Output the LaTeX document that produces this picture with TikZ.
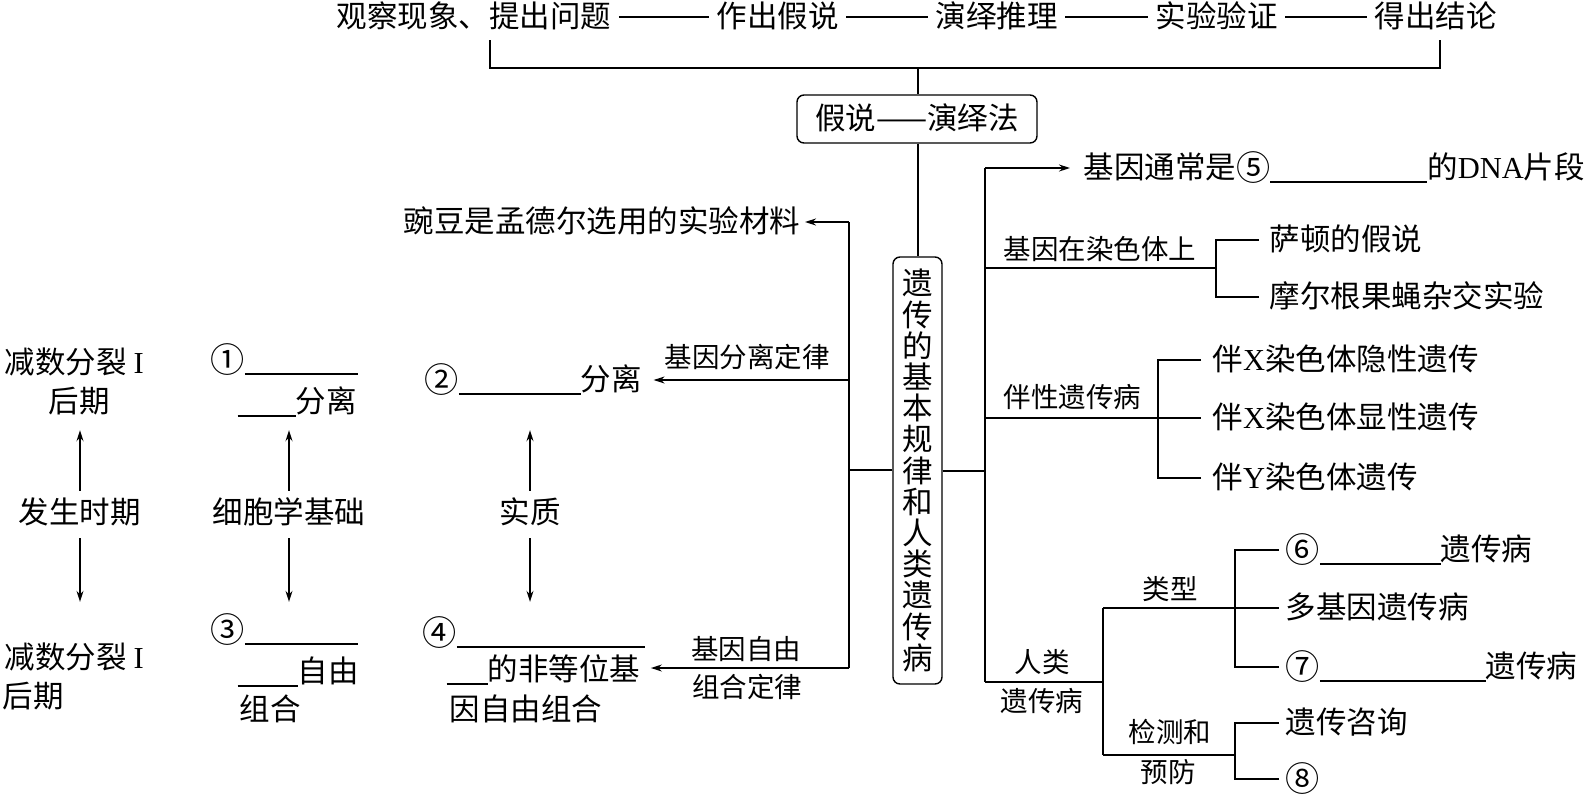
\documentclass[tikz,border=0pt]{standalone}
\usepackage{fontspec}
\setmainfont{Noto Sans CJK SC}
\newfontfamily\lat{Liberation Serif}
\usetikzlibrary{arrows.meta}
\newcommand\myblank[1]{\rule[-4pt]{#1pt}{1.4pt}}
\newcommand\cnum[1]{\raisebox{-1.5pt}{\scalebox{1.12}{#1}}}
\tikzset{
  big/.style={inner sep=0pt, font=\fontsize{30.5}{33}\selectfont, text height=26pt, text depth=5pt},
  small/.style={inner sep=0pt, font=\fontsize{27.5}{30}\selectfont, text height=23.5pt, text depth=4.5pt},
  arr/.style={-{Stealth[length=11pt,width=7pt]}},
  rbox/.style={draw, rounded corners=7pt},
}
\begin{document}
\begin{tikzpicture}[x=1pt,y=-1pt,line width=1.4pt]
\useasboundingbox (0,0) rectangle (1591,796);
% top row
\node[big,anchor=west] (t1) at (336,17) {观察现象、提出问题};
\node[big,anchor=west] (t2) at (716,17) {作出假说};
\node[big,anchor=west] (t3) at (935,17) {演绎推理};
\node[big,anchor=west] (t4) at (1155,17) {实验验证};
\node[big,anchor=west] (t5) at (1374,17) {得出结论};
\draw[shorten <=7pt,shorten >=7pt] (t1) -- (t2);
\draw[shorten <=7pt,shorten >=7pt] (t2) -- (t3);
\draw[shorten <=7pt,shorten >=7pt] (t3) -- (t4);
\draw[shorten <=7pt,shorten >=7pt] (t4) -- (t5);
\coordinate (bl) at (490,40);
\coordinate (br) at (1440,40);
\coordinate (bm) at (918,68);
\draw (bl) |- (bm) -| (br);
\node[rbox,big,inner sep=0pt,minimum width=240pt,minimum height=48pt] (hb) at (917,119) {假说——演绎法};
\draw (bm) -- (bm |- hb.north);
\node[rbox,inner sep=0pt,align=center,minimum width=49pt,minimum height=427pt,
  font={\fontsize{30.5}{31.2}\selectfont\lineskiplimit=-50pt}] (mb) at (917.5,470.5)
  {遗\\传\\的\\基\\本\\规\\律\\和\\人\\类\\遗\\传\\病};
\draw (hb.south -| bm) -- (mb.north -| bm);
% left trunk
\coordinate (lj) at (849,470);
\coordinate (ltop) at (849,222);
\coordinate (lbot) at (849,668);
\coordinate (l2) at (849,380);
\draw (mb.west |- lj) -- (lj);
\draw (ltop) -- (lbot);
\node[big,anchor=east] (pea) at (801,222) {豌豆是孟德尔选用的实验材料};
\draw[arr,shorten >=4pt] (ltop) -- (pea);
\node[big,anchor=west] (n2) at (424,380) {\cnum{②}\myblank{122}分离};
\draw[arr,shorten >=11pt] (l2) -- (n2);
\node[small] (lab2) at (747,358) {基因分离定律};
\node[big,anchor=west] (n4a) at (422,633) {\cnum{④}\myblank{188}};
\node[big,anchor=west] (n4b) at (446,670) {\myblank{41}的非等位基};
\node[big,anchor=west] (n4c) at (449,710) {因自由组合};
\draw[arr,shorten >=10pt] (lbot) -- (lbot -| n4b.east);
\node[small] (lab4a) at (746,650) {基因自由};
\node[small] (lab4b) at (747,688) {组合定律};
% column 1
\node[big,anchor=west] (c1a) at (4,363) {减数分裂 {\lat I}};
\node[big] (c1b) at (79,402) {后期};
\node[big] (c1m) at (80,513) {发生时期};
\node[big,anchor=west] (c1c) at (4,658) {减数分裂 {\lat I}};
\node[big,anchor=west] (c1d) at (2,697) {后期};
\draw[arr,shorten <=6pt,shorten >=12pt] (c1m.north) -- (c1m.north |- c1b.south);
\draw[arr,shorten <=9pt,shorten >=40pt] (c1m.south) -- (c1m.south |- c1c.north);
% column 2
\node[big,anchor=west] (c2a) at (210,360) {\cnum{①}\myblank{113}};
\node[big,anchor=west] (c2b) at (237,402) {\myblank{58}分离};
\node[big] (c2m) at (289,513) {细胞学基础};
\node[big,anchor=west] (c2c) at (210,630) {\cnum{③}\myblank{113}};
\node[big,anchor=west] (c2d) at (237,672) {\myblank{60}自由};
\node[big,anchor=west] (c2e) at (239,710) {组合};
\draw[arr,shorten <=6pt,shorten >=12pt] (c2m.north) -- (c2m.north |- c2b.south);
\draw[arr,shorten <=9pt,shorten >=12pt] (c2m.south) -- (c2m.south |- c2c.north);
% column 3
\node[big] (c3m) at (530,513) {实质};
\draw[arr,shorten <=6pt,shorten >=34pt] (c3m.north) -- (c3m.north |- n2.south);
\draw[arr,shorten <=9pt,shorten >=15pt] (c3m.south) -- (c3m.south |- n4a.north);
% right trunk
\coordinate (rj) at (985,471);
\coordinate (rtop) at (985,168);
\coordinate (rbot) at (985,682);
\draw (mb.east |- rj) -- (rj);
\draw (rtop) -- (rbot);
\node[big,anchor=west] (n5) at (1083,168) {基因通常是\cnum{⑤}\myblank{157}的{\lat DNA}片段};
\draw[arr,shorten >=13pt] (rtop) -- (n5);
% gene on chromosome
\coordinate (r1) at (985,268);
\coordinate (b1) at (1216,268);
\draw (r1) -- (b1);
\node[small,anchor=west] (lab5) at (1003,250) {基因在染色体上};
\node[big,anchor=west] (s1) at (1269,240) {萨顿的假说};
\node[big,anchor=west] (s2) at (1269,297) {摩尔根果蝇杂交实验};
\draw[shorten <=10pt] (s1) -| (b1);
\draw[shorten <=10pt] (s2) -| (b1);
% sex-linked
\coordinate (r2) at (985,418);
\coordinate (b2) at (1158,418);
\node[small,anchor=west] (lab6) at (1003,398) {伴性遗传病};
\node[big,anchor=west] (x1) at (1212,360) {伴{\lat X}染色体隐性遗传};
\node[big,anchor=west] (x2) at (1212,418) {伴{\lat X}染色体显性遗传};
\node[big,anchor=west] (x3) at (1212,478) {伴{\lat Y}染色体遗传};
\draw[shorten >=11pt] (r2) -- (x2);
\draw[shorten <=11pt] (x1) -| (b2);
\draw[shorten <=11pt] (x3) -| (b2);
% human genetic disease
\coordinate (r3) at (1103,682);
\coordinate (r3t) at (1103,608);
\coordinate (r3b) at (1103,755);
\coordinate (b3) at (1235,608);
\coordinate (b4) at (1235,755);
\draw (rbot) -- (r3);
\draw (r3t) -- (r3b);
\node[small] (lab7a) at (1042,663) {人类};
\node[small] (lab7b) at (1042,702) {遗传病};
\node[small] (lab8) at (1170,590) {类型};
\node[big,anchor=west] (p6) at (1285,550) {\cnum{⑥}\myblank{121}遗传病};
\node[big,anchor=west] (pm) at (1285,608) {多基因遗传病};
\node[big,anchor=west] (p7) at (1285,667) {\cnum{⑦}\myblank{166}遗传病};
\draw[shorten >=6pt] (r3t) -- (pm);
\draw[shorten <=6pt] (p6) -| (b3);
\draw[shorten <=6pt] (p7) -| (b3);
\node[small] (lab9a) at (1170,733) {检测和};
\node[small] (lab9b) at (1168,773) {预防};
\draw (r3b) -- (b4);
\node[big,anchor=west] (q1) at (1285,723) {遗传咨询};
\node[anchor=west,inner sep=0pt,font=\fontsize{30.5}{33}\selectfont] (q2) at (1285,779) {\cnum{⑧}};
\draw[shorten <=6pt] (q1) -| (b4);
\draw[shorten <=6pt] (q2) -| (b4);
\end{tikzpicture}
\end{document}
